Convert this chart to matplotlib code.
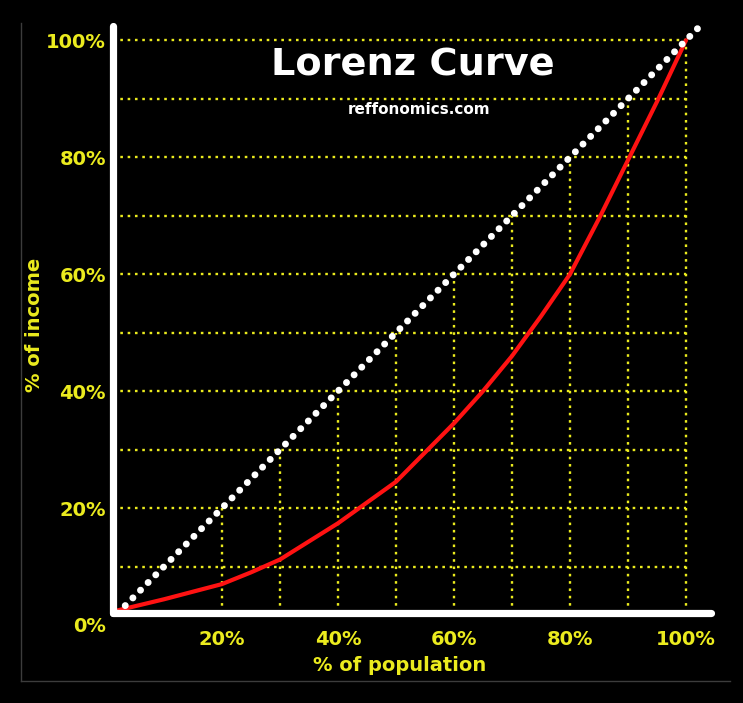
import matplotlib
matplotlib.use("Agg")
import matplotlib.pyplot as plt
from matplotlib.lines import Line2D

# data (% of population, % of income)
pop = [2, 10, 20, 25, 30, 40, 50, 55, 60, 65, 70, 75, 80, 85, 90, 95, 100]
income = [2.5, 4.4, 7, 9, 11.2, 17.4, 24.5, 29.5, 34.5, 40, 46, 52.8, 60, 69.5, 79.5, 89.5, 100]
equality = [2, 102]

x_ticks = [20, 40, 60, 80, 100]
x_labels = ["20%", "40%", "60%", "80%", "100%"]
y_ticks = [0, 20, 40, 60, 80, 100]
y_labels = ["0%", "20%", "40%", "60%", "80%", "100%"]
grid_x = [20, 30, 40, 50, 60, 70, 80, 90, 100]
grid_y = [10, 20, 30, 40, 50, 60, 70, 80, 90, 100]

yellow = "#ebeb1e"
W, H = 743, 703

fig = plt.figure(figsize=(W / 100, H / 100), dpi=100, facecolor="black")
ax = fig.add_axes([106 / W, (H - 625) / H, 609 / W, 614 / H])
ax.set_facecolor("black")
ax.set_xlim(0, 105)
ax.set_ylim(0, 105)

# yellow dotted grid: verticals stop at the diagonal, horizontals at 100%
dots = (0, (1.1, 2.0))
ax.vlines(grid_x, 2, grid_x, colors=yellow, linewidth=1.7, linestyles=[dots], zorder=1)
ax.hlines(grid_y, 1.2, 100, colors=yellow, linewidth=1.7, linestyles=[dots], zorder=1)

# lorenz curve
ax.plot(pop, income, color="#ff1212", linewidth=3, solid_capstyle="round",
        solid_joinstyle="round", zorder=2)

# line of equality (white dots)
ax.plot(equality, equality, color="white", linewidth=5,
        linestyle=(0, (0.01, 1.55)), dash_capstyle="round", zorder=3)

# axes lines
for side in ["top", "right"]:
    ax.spines[side].set_visible(False)
ax.spines["left"].set_position(("data", 1.2))
ax.spines["bottom"].set_position(("data", 2.05))
ax.spines["left"].set_bounds(2.05, 102.5)
ax.spines["bottom"].set_bounds(1.2, 104.3)
for side in ["left", "bottom"]:
    ax.spines[side].set_color("white")
    ax.spines[side].set_linewidth(5.2)
    ax.spines[side].set_capstyle("round")
    ax.spines[side].set_zorder(5)

ax.set_xticks(x_ticks)
ax.set_xticklabels(x_labels)
ax.set_yticks(y_ticks)
ax.set_yticklabels(y_labels)
ax.tick_params(axis="both", length=0, colors=yellow, labelsize=14)
ax.tick_params(axis="y", pad=5)
ax.tick_params(axis="x", pad=12)
for lab in ax.get_xticklabels() + ax.get_yticklabels():
    lab.set_fontweight("bold")

ax.set_xlabel("% of population", color=yellow, fontsize=14, fontweight="bold")
ax.xaxis.set_label_coords((400 - 106) / 609, (625 - 656) / 614)
ax.set_ylabel("% of income", color=yellow, fontsize=14, fontweight="bold")
ax.yaxis.set_label_coords((44 - 106) / 609, (625 - 325) / 614)

ax.text((413 - 106) / 609, (625 - 65) / 614, "Lorenz Curve", transform=ax.transAxes,
        ha="center", va="center", color="white", fontsize=27.5, fontweight="bold")
ax.text((419 - 106) / 609, (625 - 110) / 614, "reffonomics.com", transform=ax.transAxes,
        ha="center", va="center", color="white", fontsize=11, fontweight="bold")

# thin grey frame at left and bottom
fig.add_artist(Line2D([21 / W, 21 / W], [(H - 681) / H, (H - 23) / H],
                      color="#3c3c3c", linewidth=1))
fig.add_artist(Line2D([21 / W, 730 / W], [(H - 681) / H, (H - 681) / H],
                      color="#3c3c3c", linewidth=1))

fig.savefig("out.png", dpi=100, facecolor="black")
plt.close(fig)
